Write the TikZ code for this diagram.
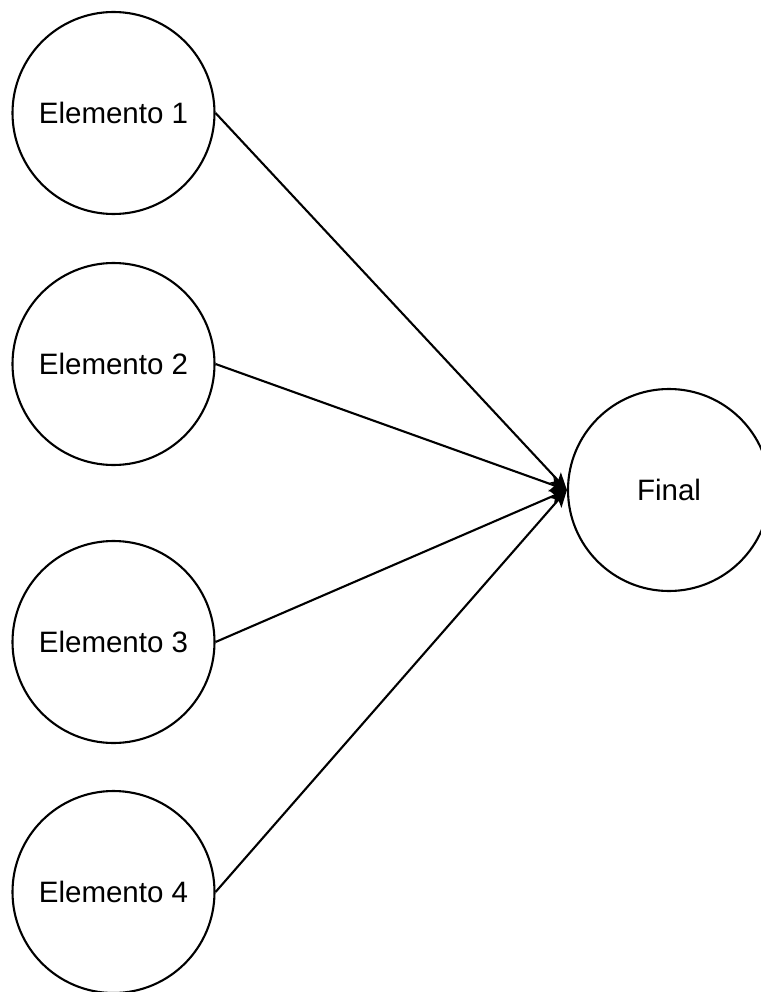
\documentclass[tikz,border=0pt]{standalone}
\usepackage{fontspec}
\setmainfont{Liberation Sans}
\usetikzlibrary{arrows.meta}
\begin{document}
\begin{tikzpicture}[x=1pt,y=-1pt,
  elem/.style={circle,draw=black,line width=2.1pt,minimum size=202pt,inner sep=0pt,
    font=\fontsize{29.5}{35}\selectfont},
  conn/.style={line width=2.1pt,-{Stealth[length=17pt,width=15pt,inset=4pt]}}]
\useasboundingbox (0,0) rectangle (760,992);
\node[elem] (e1) at (113.5,113) {Elemento 1};
\node[elem] (e2) at (113.5,364) {Elemento 2};
\node[elem] (e3) at (113.5,642) {Elemento 3};
\node[elem] (e4) at (113.5,892) {Elemento 4};
\node[elem] (fin) at (669,490) {Final};
\draw[conn] (e1.east) -- (fin.west);
\draw[conn] (e2.east) -- (fin.west);
\draw[conn] (e3.east) -- (fin.west);
\draw[conn] (e4.east) -- (fin.west);
\end{tikzpicture}
\end{document}
